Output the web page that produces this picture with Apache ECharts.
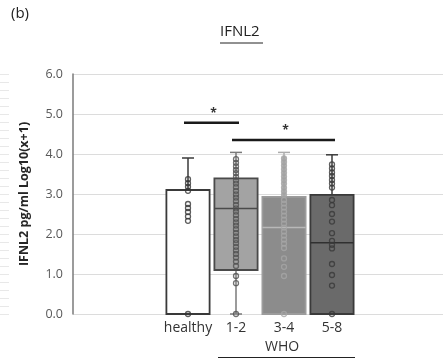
<!DOCTYPE html>
<html>
<head>
<meta charset="utf-8">
<script src="https://cdn.jsdelivr.net/npm/echarts@6/dist/echarts.min.js"></script>
<style>
  html, body { margin: 0; padding: 0; background: #fff; }
  #chart { width: 443px; height: 360px; }
</style>
</head>
<body>
<div id="chart"></div>
<script>
// 组别与箱线数据（Log10(x+1)）
const groups = ['healthy', '1-2', '3-4', '5-8'];
const boxMin = [0, 0, 0, 0];
const boxQ1 = [0, 1.1, 0, 0];
const boxMedian = [0, 2.64, 2.16, 1.78];
const boxQ3 = [3.1, 3.39, 2.93, 2.98];
const boxMax = [3.9, 4.04, 4.04, 3.98];

// 每组的散点
const healthyDots = [0, 2.33, 2.44, 2.55, 2.65, 2.75, 3.08, 3.18, 3.27, 3.37];
const who12Dots = [3.87, 3.78, 3.69, 3.6, 3.52, 3.43, 3.34, 3.26, 3.17, 3.08, 2.99, 2.91, 2.82, 2.73, 2.64,
  2.56, 2.47, 2.38, 2.29, 2.21, 2.12, 2.03, 1.94, 1.85, 1.77, 1.68, 1.59, 1.5, 1.41, 1.31, 1.2, 0.95, 0.77, 0];
const who34Dots = [3.89, 3.8, 3.71, 3.62, 3.53, 3.44, 3.35, 3.26, 3.16, 3.07, 2.98, 2.85, 2.76, 2.66, 2.56,
  2.46, 2.36, 2.26, 2.16, 2.06, 1.96, 1.86, 1.76, 1.65, 1.39, 1.18, 0.95, 0];
const who58Dots = [3.74, 3.64, 3.54, 3.45, 3.35, 3.26, 3.16, 2.85, 2.72, 2.5, 2.31, 2.02, 1.83, 1.73, 1.64,
  1.25, 0.975, 0.71, 0];

// 显著性标记
const sigFrom = [0, 1];
const sigTo = [1, 3];
const sigLevel = [4.78, 4.35];
const sigText = ['*', '*'];

const yTicks = [0, 1, 2, 3, 4, 5, 6];

const FONT = 'Open Sans';
const boxFill = ['#ffffff', '#a3a3a3', '#8c8c8c', '#6a6a6a'];
const boxLine = ['#3a3a3a', '#4a4a4a', '#9c9c9c', '#3a3a3a'];
const medLine = ['#3a3a3a', '#4a4a4a', '#b8b8b8', '#303030'];
const whiskLine = ['#3a3a3a', '#7a7a7a', '#acacac', '#3a3a3a'];
const dotLine = ['#333333', '#505050', '#a6a6a6', '#383838'];

const chart = echarts.init(document.getElementById('chart'));

const renderBox = (params, api) => {
  const i = api.value(0);
  const x = api.coord([i, 0])[0];
  const yMin = api.coord([i, api.value(1)])[1];
  const yQ1 = api.coord([i, api.value(2)])[1];
  const yMed = api.coord([i, api.value(3)])[1];
  const yQ3 = api.coord([i, api.value(4)])[1];
  const yMax = api.coord([i, api.value(5)])[1];
  const w = api.size([1, 0])[0] * 0.9;
  const cap = 6;
  const children = [];
  // 上须
  children.push({ type: 'line', shape: { x1: x, y1: yQ3, x2: x, y2: yMax }, style: { stroke: whiskLine[i], lineWidth: 1.5 } });
  children.push({ type: 'line', shape: { x1: x - cap, y1: yMax, x2: x + cap, y2: yMax }, style: { stroke: whiskLine[i], lineWidth: 1.5 } });
  // 下须
  if (yMin - yQ1 > 1) {
    children.push({ type: 'line', shape: { x1: x, y1: yQ1, x2: x, y2: yMin }, style: { stroke: whiskLine[i], lineWidth: 1.5 } });
    children.push({ type: 'line', shape: { x1: x - cap, y1: yMin, x2: x + cap, y2: yMin }, style: { stroke: whiskLine[i], lineWidth: 1.5 } });
  }
  children.push({ type: 'rect', shape: { x: x - w / 2, y: yQ3, width: w, height: yQ1 - yQ3 },
    style: { fill: boxFill[i], stroke: boxLine[i], lineWidth: 1.8 } });
  children.push({ type: 'line', shape: { x1: x - w / 2, y1: yMed, x2: x + w / 2, y2: yMed },
    style: { stroke: medLine[i], lineWidth: 1.5 } });
  return { type: 'group', children };
};

const renderSig = (params, api) => {
  const y = api.coord([0, api.value(2)])[1];
  const x1 = api.coord([api.value(0), 0])[0] - 4;
  const x2 = api.coord([api.value(1), 0])[0] + 3;
  return {
    type: 'group',
    children: [
      { type: 'line', shape: { x1, y1: y, x2, y2: y }, style: { stroke: '#1a1a1a', lineWidth: 2.5 } },
      { type: 'text', style: { x: (x1 + x2) / 2 + 2, y: y - 3, text: sigText[params.dataIndex],
        font: 'bold 12px ' + FONT, fill: '#333', align: 'center', verticalAlign: 'bottom' } }
    ]
  };
};

const dotSets = [healthyDots, who12Dots, who34Dots, who58Dots];
const dotSeries = dotSets.map((arr, g) => ({
  type: 'scatter',
  xAxisIndex: 1,
  yAxisIndex: 2,
  symbol: 'circle',
  symbolSize: 5,
  z: 5,
  silent: true,
  data: arr.map(v => ({
    value: [g, v],
    itemStyle: {
      color: (g === 2 && v > 2.95) ? '#a0a0a0' : 'rgba(0,0,0,0)',
      borderColor: dotLine[g],
      borderWidth: 1.3
    }
  }))
}));

const option = {
  animation: false,
  backgroundColor: '#fff',
  textStyle: { fontFamily: FONT },
  grid: [
    { left: 73, right: 0, top: 74, bottom: 46 },
    { left: 164, width: 192, top: 74, bottom: 46 }
  ],
  xAxis: [
    { gridIndex: 0, type: 'value', show: false, min: 0, max: 1 },
    {
      gridIndex: 1,
      type: 'category',
      data: groups,
      axisLine: { show: false },
      axisTick: { show: false },
      axisLabel: { interval: 0, color: '#333', fontSize: 14, margin: 7, fontFamily: FONT }
    }
  ],
  yAxis: [
    {
      gridIndex: 0,
      type: 'value',
      min: yTicks[0],
      max: yTicks[yTicks.length - 1],
      interval: 1,
      axisLine: { show: true, lineStyle: { color: '#7a7a7a', width: 1.5 } },
      axisTick: { show: false },
      axisLabel: { color: '#595959', fontSize: 12.5, margin: 10, formatter: v => v.toFixed(1) },
      splitLine: { lineStyle: { color: '#dcdcdc', width: 1 } },
      name: 'IFNL2 pg/ml Log10(x+1)',
      nameLocation: 'middle',
      nameGap: 42,
      nameTextStyle: { fontSize: 12.5, fontWeight: 'bold', color: '#262626', fontFamily: FONT }
    },
    {
      // 左侧的浅色刻度装饰
      gridIndex: 0,
      type: 'value',
      position: 'left',
      offset: 73,
      min: 0,
      max: 6,
      interval: 0.2,
      axisLine: { show: false },
      axisLabel: { show: false },
      splitLine: { show: false },
      axisTick: { show: true, inside: true, length: 9, lineStyle: { color: '#e8e8e8' } }
    },
    { gridIndex: 1, type: 'value', min: 0, max: 6, show: false }
  ],
  graphic: [
    { type: 'text', left: 11, top: 6, style: { text: '(b)', font: '15px ' + FONT, fill: '#222' } },
    { type: 'text', left: 220, top: 24, style: { text: 'IFNL2', font: '15px ' + FONT, fill: '#222' } },
    { type: 'line', shape: { x1: 220, y1: 43, x2: 263, y2: 43 }, style: { stroke: '#222', lineWidth: 1 } },
    { type: 'text', left: 265, top: 340, style: { text: 'WHO', font: '14px ' + FONT, fill: '#333' } },
    { type: 'line', shape: { x1: 218, y1: 357.5, x2: 355, y2: 357.5 }, style: { stroke: '#222', lineWidth: 1 } }
  ],
  series: [
    {
      type: 'custom',
      xAxisIndex: 1,
      yAxisIndex: 2,
      renderItem: renderBox,
      z: 3,
      data: groups.map((g, i) => [i, boxMin[i], boxQ1[i], boxMedian[i], boxQ3[i], boxMax[i]])
    },
    ...dotSeries,
    {
      type: 'custom',
      xAxisIndex: 1,
      yAxisIndex: 2,
      renderItem: renderSig,
      z: 6,
      data: sigFrom.map((f, i) => [f, sigTo[i], sigLevel[i]])
    }
  ]
};

chart.setOption(option);
</script>
</body>
</html>
